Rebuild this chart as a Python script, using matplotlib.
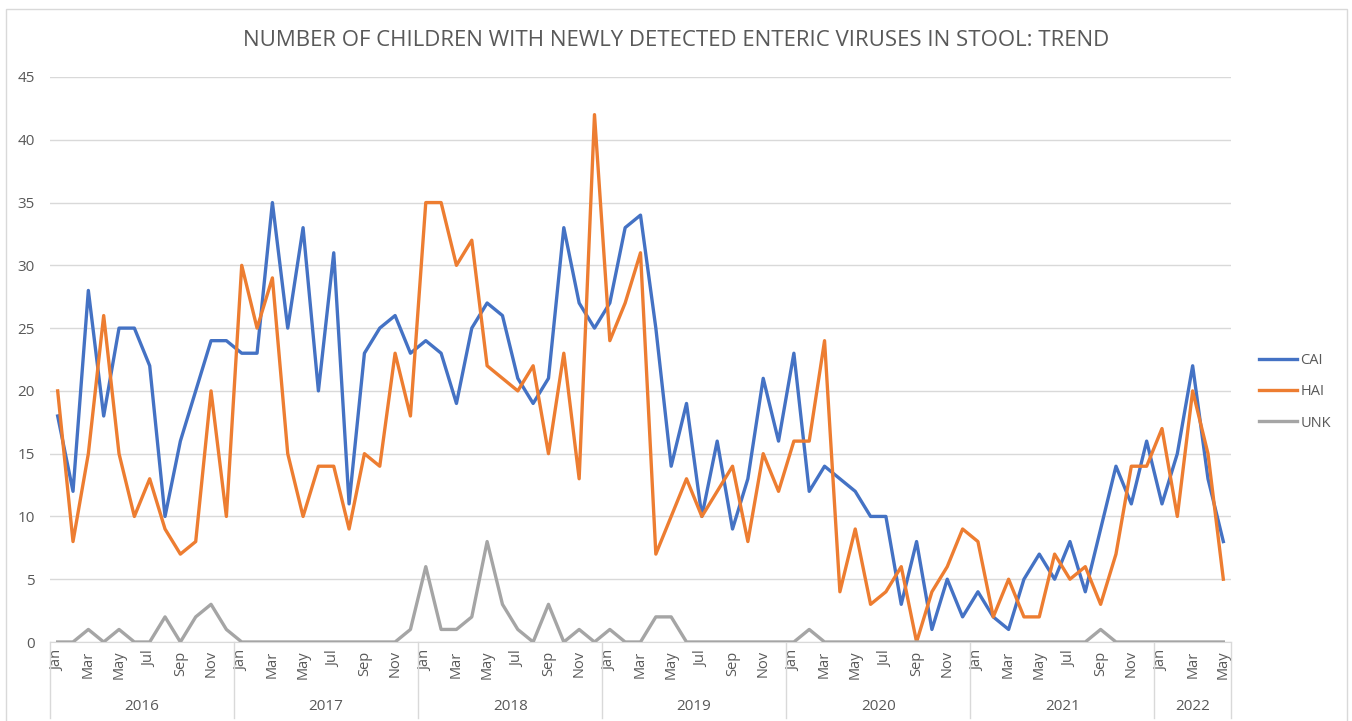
import matplotlib.pyplot as plt
from matplotlib.patches import Rectangle
import numpy as np

plt.rcParams['font.family'] = ['Open Sans', 'DejaVu Sans']

years = ['2016', '2017', '2018', '2019', '2020', '2021', '2022']
month_names = ['Jan', 'Feb', 'Mar', 'Apr', 'May', 'Jun',
               'Jul', 'Aug', 'Sep', 'Oct', 'Nov', 'Dec']
months_per_year = [12, 12, 12, 12, 12, 12, 5]

cai = [18, 12, 28, 18, 25, 25, 22, 10, 16, 20, 24, 24,
       23, 23, 35, 25, 33, 20, 31, 11, 23, 25, 26, 23,
       24, 23, 19, 25, 27, 26, 21, 19, 21, 33, 27, 25,
       27, 33, 34, 25, 14, 19, 10, 16, 9, 13, 21, 16,
       23, 12, 14, 13, 12, 10, 10, 3, 8, 1, 5, 2,
       4, 2, 1, 5, 7, 5, 8, 4, 9, 14, 11, 16,
       11, 15, 22, 13, 8]
hai = [20, 8, 15, 26, 15, 10, 13, 9, 7, 8, 20, 10,
       30, 25, 29, 15, 10, 14, 14, 9, 15, 14, 23, 18,
       35, 35, 30, 32, 22, 21, 20, 22, 15, 23, 13, 42,
       24, 27, 31, 7, 10, 13, 10, 12, 14, 8, 15, 12,
       16, 16, 24, 4, 9, 3, 4, 6, 0, 4, 6, 9,
       8, 2, 5, 2, 2, 7, 5, 6, 3, 7, 14, 14,
       17, 10, 20, 15, 5]
unk = [0, 0, 1, 0, 1, 0, 0, 2, 0, 2, 3, 1,
       0, 0, 0, 0, 0, 0, 0, 0, 0, 0, 0, 1,
       6, 1, 1, 2, 8, 3, 1, 0, 3, 0, 1, 0,
       1, 0, 0, 2, 2, 0, 0, 0, 0, 0, 0, 0,
       0, 1, 0, 0, 0, 0, 0, 0, 0, 0, 0, 0,
       0, 0, 0, 0, 0, 0, 0, 0, 1, 0, 0, 0,
       0, 0, 0, 0, 0]

# month labels per point
labels = []
for n in months_per_year:
    labels += month_names[:n]
x = np.arange(len(labels))

fig = plt.figure(figsize=(13.52, 7.21), dpi=100)
ax = fig.add_axes([50 / 1352, 1 - 642 / 721, (1231 - 50) / 1352, (642 - 77) / 721])

txt = '#595959'
ax.plot(x, cai, color='#4472C4', lw=2.4, label='CAI', zorder=3)
ax.plot(x, hai, color='#ED7D31', lw=2.4, label='HAI', zorder=3)
ax.plot(x, unk, color='#A5A5A5', lw=2.4, label='UNK', zorder=3)

ax.set_xlim(-0.5, len(x) - 0.5)
ax.set_ylim(0, 45)
ax.set_yticks(range(0, 46, 5))
ax.grid(axis='y', color='#D9D9D9', lw=1)
ax.set_axisbelow(True)
for s in ['top', 'right', 'left']:
    ax.spines[s].set_visible(False)
ax.spines['bottom'].set_color('#D9D9D9')
ax.tick_params(axis='y', length=0, labelsize=11, labelcolor=txt, pad=11)
ax.tick_params(axis='x', length=0, labelsize=10.5, labelcolor=txt, pad=6)

ax.set_xticks(x[::2])
ax.set_xticklabels(labels[::2], rotation=90, va='top')

# year groups
start = 0
bounds = [-0.5]
for yr, n in zip(years, months_per_year):
    ax.text(start + (n - 1) / 2, -0.115, yr, transform=ax.get_xaxis_transform(),
            ha='center', va='center', fontsize=11, color=txt)
    start += n
    bounds.append(start - 0.5)
for b in bounds:
    ax.plot([b, b], [0, -0.135], transform=ax.get_xaxis_transform(),
            color='#D9D9D9', lw=1, clip_on=False)

ax.legend(loc='center left', bbox_to_anchor=(1.0237, 0.4425), frameon=False,
          fontsize=10.5, labelcolor=txt, handlelength=2.6, handletextpad=0.25,
          labelspacing=1.1, borderpad=0, borderaxespad=0)

fig.text(0.5, 1 - 40 / 721, 'NUMBER OF CHILDREN WITH NEWLY DETECTED ENTERIC VIRUSES IN STOOL: TREND',
         ha='center', va='center', fontsize=16, color=txt)

fig.patches.append(Rectangle((6 / 1352, -0.01), (1347 - 6) / 1352, 1.01 - 9 / 721,
                             transform=fig.transFigure, fill=False,
                             edgecolor='#D9D9D9', lw=1))

fig.savefig('out.png', dpi=100)
